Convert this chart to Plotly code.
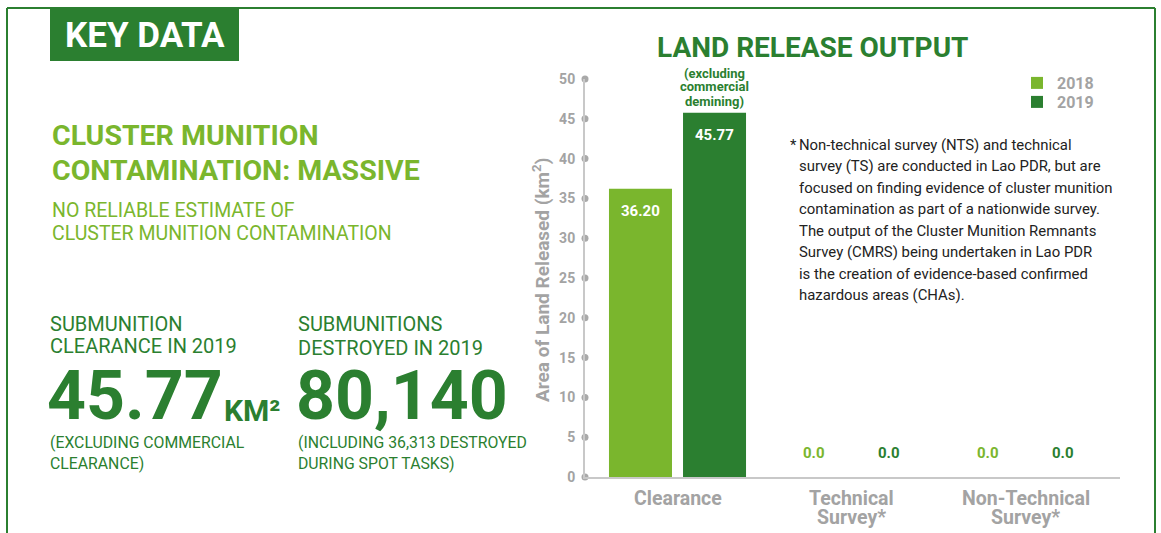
import plotly.graph_objects as go

# ---------------- data ----------------
categories = ["Clearance", "Technical<br>Survey*", "Non-Technical<br>Survey*"]
years = ["2018", "2019"]
values_2018 = [36.20, 0.0, 0.0]
values_2019 = [45.77, 0.0, 0.0]
y_ticks = [0, 5, 10, 15, 20, 25, 30, 35, 40, 45, 50]

note_lines = [
    "Non-technical survey (NTS) and technical",
    "survey (TS) are conducted in Lao PDR, but are",
    "focused on finding evidence of cluster munition",
    "contamination as part of a nationwide survey.",
    "The output of the Cluster Munition Remnants",
    "Survey (CMRS) being undertaken in Lao PDR",
    "is the creation of evidence-based confirmed",
    "hazardous areas (CHAs).",
]
bar_note_lines = ["(excluding", "commercial", "demining)"]

# ---------------- style ----------------
W, H = 1161, 533
L, R, T, B = 585, 41, 79, 56
LIGHT = "#7ab62d"
DARK = "#2b7f30"
GREY = "#a3a3a3"
AXIS = "#c8c8c8"
FONT = "Roboto"
BARGAP = 0.149
BARGROUPGAP = 0.149
X_RANGE = [-0.5316, 2.543]

pw, ph = W - L - R, H - T - B


def px(x):
    return (x - L) / pw


def py(y):
    return (H - B - y) / ph


series = [(years[0], values_2018, LIGHT), (years[1], values_2019, DARK)]
xs = list(range(len(categories)))
legend_tops = [66, 85]

fig = go.Figure()
for j, (name, vals, col) in enumerate(series):
    fig.add_trace(go.Bar(x=xs, y=vals, name=name, marker=dict(color=col, line=dict(width=0)),
                         hoverinfo="skip", legend="legend" if j == 0 else f"legend{j + 1}"))

# tick dots on y axis
fig.add_trace(go.Scatter(x=[X_RANGE[0]] * len(y_ticks), y=y_ticks, mode="markers",
                         marker=dict(color="#a9a9a9", size=7), cliponaxis=False,
                         showlegend=False, hoverinfo="skip"))

ann = []
# value labels
slot = (1 - BARGAP) / len(series)
for j, (name, vals, col) in enumerate(series):
    off = (j - (len(series) - 1) / 2) * slot
    for i, v in enumerate(vals):
        if v > 0:
            ann.append(dict(x=xs[i] + off, y=v, xref="x", yref="y", text=f"<b>{v:.2f}</b>",
                            showarrow=False, xanchor="center", yanchor="middle", yshift=-22,
                            font=dict(family=FONT, size=15, color="white")))
        else:
            ann.append(dict(x=xs[i] + off, y=v, xref="x", yref="y", text=f"<b>{v:.1f}</b>",
                            showarrow=False, xanchor="center", yanchor="middle", yshift=24,
                            font=dict(family=FONT, size=15, color=col)))

# note above 2019 clearance bar
off19 = 0.5 * slot
for k, line in enumerate(bar_note_lines):
    ann.append(dict(x=xs[0] + off19, y=py(73 + 14 * k), xref="x", yref="paper",
                    text=f"<b>{line}</b>", showarrow=False, xanchor="center", yanchor="middle",
                    font=dict(family=FONT, size=13, color=DARK)))

# category labels (line by line for tight spacing)
for i, cat in enumerate(categories):
    for k, line in enumerate(cat.split("<br>")):
        ann.append(dict(x=xs[i], y=py(499 + 18 * k), xref="x", yref="paper",
                        text=f"<b>{line}</b>", showarrow=False, xanchor="center",
                        yanchor="middle", font=dict(family=FONT, size=19.5, color=GREY)))

# y axis title
ann.append(dict(x=px(541), y=py(280), xref="paper", yref="paper", textangle=-90,
                xanchor="center", yanchor="middle",
                text="<b>Area of Land Released (km<sup>2</sup>)</b>", showarrow=False,
                font=dict(family=FONT, size=19, color=GREY)))

# chart title
ann.append(dict(x=px(812), y=py(47), xref="paper", yref="paper", xanchor="center",
                text="<b>LAND RELEASE OUTPUT</b>", showarrow=False, yanchor="middle",
                font=dict(family=FONT, size=28, color=DARK)))

# footnote
ann.append(dict(x=px(788), y=py(145), xref="paper", yref="paper", text="*",
                showarrow=False, xanchor="left", yanchor="middle",
                font=dict(family=FONT, size=14.9, color="#222222")))
for k, line in enumerate(note_lines):
    ann.append(dict(x=px(797), y=py(145 + 21.45 * k), xref="paper", yref="paper", text=line,
                    showarrow=False, xanchor="left", yanchor="middle",
                    font=dict(family=FONT, size=14.9, color="#222222")))


def left_text(x, y, text, size, color, bold=False):
    t = f"<b>{text}</b>" if bold else text
    ann.append(dict(x=px(x), y=py(y), xref="paper", yref="paper", text=t, showarrow=False,
                    xanchor="left", yanchor="middle",
                    font=dict(family=FONT, size=size, color=color)))


# left key-data panel
ann.append(dict(x=px(145), y=py(36), xref="paper", yref="paper", text="<b>KEY DATA</b>",
                showarrow=False, xanchor="center", yanchor="middle",
                font=dict(family=FONT, size=35, color="white")))
left_text(50, 135, "CLUSTER MUNITION", 28.5, LIGHT, True)
left_text(50, 170, "CONTAMINATION: MASSIVE", 28.5, LIGHT, True)
left_text(50, 210, "NO RELIABLE ESTIMATE OF", 19.5, LIGHT)
left_text(50, 233, "CLUSTER MUNITION CONTAMINATION", 19.5, LIGHT)
left_text(48, 324, "SUBMUNITION", 20, DARK)
left_text(48, 346, "CLEARANCE IN 2019", 20, DARK)
left_text(296, 324, "SUBMUNITIONS", 20, DARK)
left_text(296, 348, "DESTROYED IN 2019", 20, DARK)
left_text(45, 396, "45.77", 68, DARK, True)
left_text(222, 410, "KM²", 30, DARK, True)
left_text(294, 396, "80,140", 68, DARK, True)
left_text(48, 442, "(EXCLUDING COMMERCIAL", 15.8, DARK)
left_text(48, 463, "CLEARANCE)", 15.8, DARK)
left_text(296, 442, "(INCLUDING 36,313 DESTROYED", 15.8, DARK)
left_text(296, 463, "DURING SPOT TASKS)", 15.8, DARK)

shapes = [
    dict(type="line", xref="paper", yref="paper", x0=px(7), x1=px(7), y0=py(8), y1=py(545),
         line=dict(color=DARK, width=2)),
    dict(type="line", xref="paper", yref="paper", x0=px(7), x1=px(1155), y0=py(8), y1=py(8),
         line=dict(color=DARK, width=2)),
    dict(type="line", xref="paper", yref="paper", x0=px(1155), x1=px(1155), y0=py(8), y1=py(545),
         line=dict(color=DARK, width=2)),
    dict(type="rect", xref="paper", yref="paper", x0=px(50), x1=px(239), y0=py(7), y1=py(61),
         fillcolor=DARK, line=dict(width=0), layer="below"),
]

legend_style = dict(xanchor="left", yanchor="top", bgcolor="rgba(0,0,0,0)",
                    font=dict(family=FONT, size=16, color=GREY, weight="bold"))

fig.update_layout(
    width=W, height=H, margin=dict(l=L, r=R, t=T, b=B, autoexpand=False),
    paper_bgcolor="white", plot_bgcolor="white",
    barmode="group", bargap=BARGAP, bargroupgap=BARGROUPGAP,
    font=dict(family=FONT, color=GREY),
    showlegend=True,
    legend=dict(x=px(1017), y=py(legend_tops[0]), **legend_style),
    legend2=dict(x=px(1017), y=py(legend_tops[1]), **legend_style),
    xaxis=dict(range=X_RANGE, showgrid=False, zeroline=False, showline=True, linecolor=AXIS,
               linewidth=2, tickvals=xs, showticklabels=False, ticks="", fixedrange=True),
    yaxis=dict(range=[0, 50], tickvals=y_ticks, showgrid=False, zeroline=False, showline=True,
               linecolor=AXIS, linewidth=2, ticks="", ticklabelstandoff=5,
               tickfont=dict(family=FONT, size=14, color=GREY, weight="bold"), fixedrange=True),
    annotations=ann, shapes=shapes,
)

fig.write_html(
    "out.html",
    config={"displayModeBar": False},
    post_script="document.body.style.margin='0';document.body.style.overflow='hidden';",
)
